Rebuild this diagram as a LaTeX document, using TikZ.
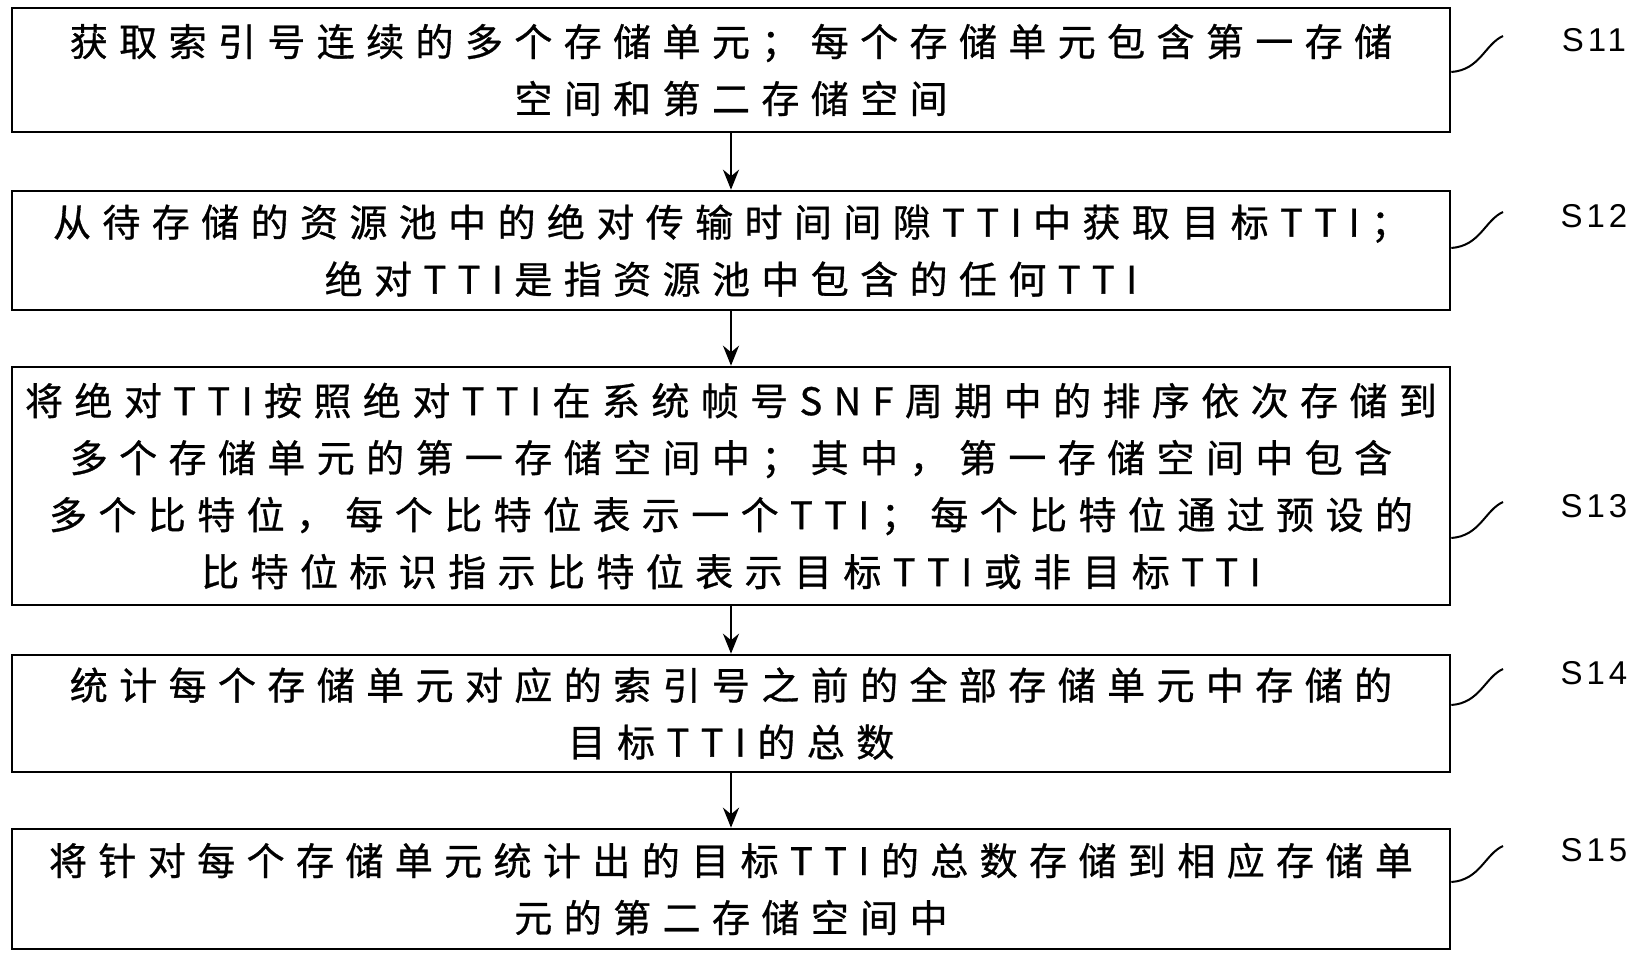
\documentclass[tikz,border=0pt]{standalone}
\usetikzlibrary{arrows.meta}
\usepackage{fontspec}
\setmainfont{Noto Sans CJK SC}[LetterSpace=30,FakeBold=0.8]
\newfontfamily\lab{Liberation Sans}[LetterSpace=12]
\begin{document}
\begin{tikzpicture}[x=0.5pt,y=-0.5pt,
  stepbox/.style={draw,line width=1.3pt,minimum width=719pt,align=center,font=\fontsize{19}{28.5}\selectfont,inner sep=0pt},
  lbl/.style={font=\lab\fontsize{16.5}{18}\selectfont}]
\useasboundingbox (0,0) rectangle (1633,963);
\node[stepbox,minimum height=62pt] (b1) at (731,70) {获取索引号连续的多个存储单元；每个存储单元包含第一存储\\空间和第二存储空间};
\node[stepbox,minimum height=59.5pt] (b2) at (731,250.5) {从待存储的资源池中的绝对传输时间间隙TTI中获取目标TTI；\\绝对TTI是指资源池中包含的任何TTI};
\node[stepbox,minimum height=119pt] (b3) at (731,486) {将绝对TTI按照绝对TTI在系统帧号SNF周期中的排序依次存储到\\多个存储单元的第一存储空间中；其中，第一存储空间中包含\\多个比特位，每个比特位表示一个TTI；每个比特位通过预设的\\比特位标识指示比特位表示目标TTI或非目标TTI};
\node[stepbox,minimum height=58.5pt] (b4) at (731,713.5) {统计每个存储单元对应的索引号之前的全部存储单元中存储的\\目标TTI的总数};
\node[stepbox,minimum height=60pt] (b5) at (731,889) {将针对每个存储单元统计出的目标TTI的总数存储到相应存储单\\元的第二存储空间中};
\foreach \a/\b in {b1/b2,b2/b3,b3/b4,b4/b5}
  \draw[-{Stealth[length=10pt,width=8pt]},line width=1.3pt] (\a) -- (\b);
\foreach \n/\t/\y in {b1/S11/40,b2/S12/216,b3/S13/506,b4/S14/673,b5/S15/850}{
  \node[lbl] (l\n) at (1594,\y) {\t};
  \coordinate (c\n) at (1503,\y-4);
  \draw[line width=1pt] (\n.east |- 0,\y+32) .. controls (1480,\y+30) and (1485,\y+4) .. (c\n);
}
\end{tikzpicture}
\end{document}
